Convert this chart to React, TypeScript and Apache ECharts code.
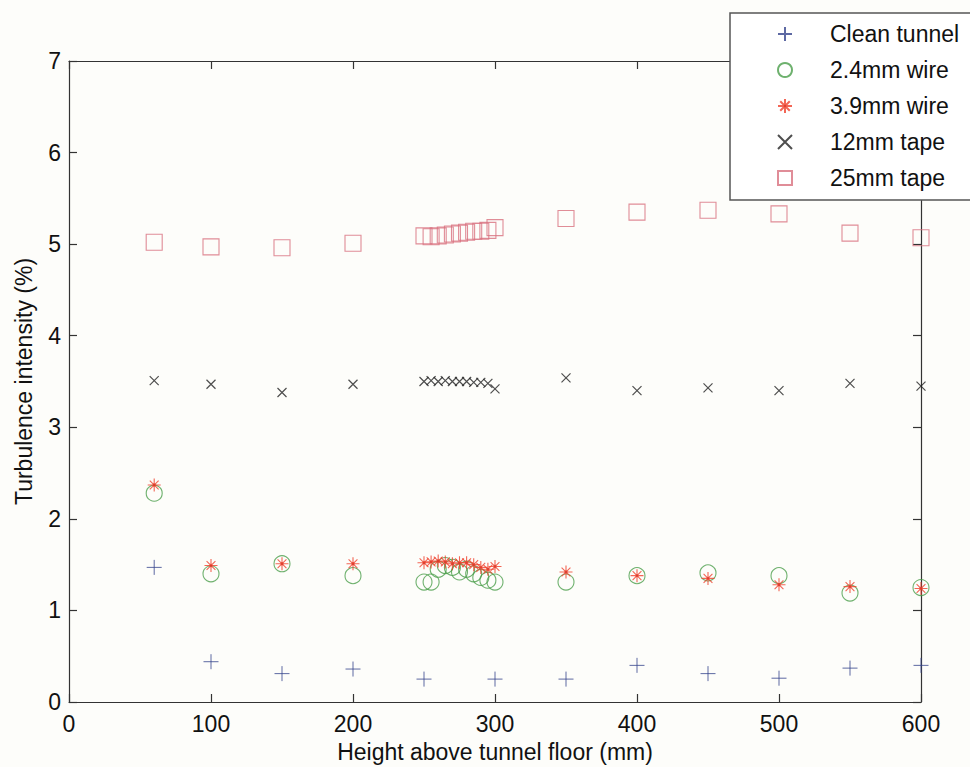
import React, { useEffect, useRef } from "react";
import * as echarts from "echarts";

// Measurement heights (mm above tunnel floor)
const cleanHeights = [60, 100, 150, 200, 250, 300, 350, 400, 450, 500, 550, 600];
const gridHeights = [
  60, 100, 150, 200, 250, 255, 260, 265, 270, 275, 280, 285, 290, 295, 300,
  350, 400, 450, 500, 550, 600,
];

// Turbulence intensity (%) for each configuration
const cleanTunnel = [1.47, 0.44, 0.31, 0.36, 0.25, 0.25, 0.25, 0.40, 0.31, 0.26, 0.37, 0.40];
const wire24 = [
  2.28, 1.40, 1.51, 1.38, 1.31, 1.31, 1.45, 1.49, 1.47, 1.42, 1.45, 1.40, 1.36, 1.33, 1.31,
  1.31, 1.38, 1.41, 1.38, 1.19, 1.25,
];
const wire39 = [
  2.37, 1.49, 1.51, 1.51, 1.52, 1.53, 1.54, 1.53, 1.51, 1.52, 1.52, 1.50, 1.47, 1.45, 1.48,
  1.42, 1.38, 1.35, 1.28, 1.26, 1.24,
];
const tape12 = [
  3.51, 3.47, 3.38, 3.47, 3.50, 3.51, 3.50, 3.51, 3.50, 3.50, 3.50, 3.49, 3.49, 3.48, 3.42,
  3.54, 3.40, 3.43, 3.40, 3.48, 3.45,
];
const tape25 = [
  5.02, 4.97, 4.96, 5.01, 5.09, 5.08, 5.09, 5.10, 5.11, 5.12, 5.13, 5.14, 5.14, 5.15, 5.18,
  5.28, 5.35, 5.37, 5.33, 5.12, 5.07,
];

const seriesNames = ["Clean tunnel", "2.4mm wire", "3.9mm wire", "12mm tape", "25mm tape"];
const xTicks = { min: 0, max: 600, interval: 100 };
const yTicks = { min: 0, max: 7, interval: 1 };

const FONT = "Liberation Sans, Arial, Helvetica, sans-serif";

const PLUS = "path://M0,5L10,5M5,0L5,10";
const CROSS = "path://M0,0L10,10M0,10L10,0";
const STAR =
  "path://M5,0L5,10M0,5L10,5M1.6,1.6L8.4,8.4M1.6,8.4L8.4,1.6M4.1,4.1L5.9,4.1L5.9,5.9L4.1,5.9Z";

function pairs(xs: number[], ys: number[]) {
  return xs.map((x, i) => [x, ys[i]]);
}

function frameAxis(extra: Record<string, unknown>) {
  return {
    type: "value",
    axisLine: { show: true, onZero: false, lineStyle: { color: "#333", width: 1.2 } },
    axisTick: { show: true, inside: true, length: 8, lineStyle: { color: "#333", width: 1.2 } },
    splitLine: { show: false },
    ...extra,
  };
}

export default function App() {
  const ref = useRef<HTMLDivElement>(null);

  useEffect(() => {
    if (!ref.current) return;
    const chart = echarts.init(ref.current, undefined, { renderer: "svg" });

    const label = { fontFamily: FONT, fontSize: 23, color: "#111" };

    chart.setOption({
      animation: false,
      backgroundColor: "#fdfdfa",
      textStyle: { fontFamily: FONT },
      grid: {
        left: 69,
        right: 49,
        top: 61,
        bottom: 65,
        containLabel: false,
        outerBoundsMode: "none",
      },
      legend: {
        orient: "vertical",
        left: 772,
        top: 17,
        itemWidth: 14,
        itemHeight: 14,
        itemGap: 12,
        z: 20,
        data: seriesNames,
        textStyle: {
          fontFamily: FONT,
          fontSize: 23,
          lineHeight: 24,
          color: "#111",
          padding: [0, 0, 0, 33],
        },
      },
      graphic: [
        {
          type: "rect",
          z: 10,
          shape: { x: 730, y: 13, width: 270, height: 187 },
          style: { fill: "#ffffff", stroke: "#555", lineWidth: 1.5 },
        },
      ],
      xAxis: [
        frameAxis({
          position: "bottom",
          ...xTicks,
          name: "Height above tunnel floor (mm)",
          nameLocation: "middle",
          nameGap: 38,
          nameTextStyle: label,
          axisLabel: { ...label, margin: 10 },
        }),
        frameAxis({ position: "top", ...xTicks, axisLabel: { show: false } }),
      ],
      yAxis: [
        frameAxis({
          position: "left",
          ...yTicks,
          name: "Turbulence intensity (%)",
          nameLocation: "middle",
          nameGap: 34,
          nameTextStyle: label,
          axisLabel: { ...label, margin: 8 },
        }),
        frameAxis({ position: "right", ...yTicks, axisLabel: { show: false } }),
      ],
      series: [
        {
          name: seriesNames[0],
          type: "scatter",
          symbol: PLUS,
          symbolSize: 15,
          itemStyle: { color: "rgba(0,0,0,0)", borderColor: "#34448c", borderWidth: 1 },
          data: pairs(cleanHeights, cleanTunnel),
        },
        {
          name: seriesNames[1],
          type: "scatter",
          symbol: "circle",
          symbolSize: 16,
          itemStyle: { color: "rgba(0,0,0,0)", borderColor: "#4a9e4a", borderWidth: 1.1 },
          data: pairs(gridHeights, wire24),
        },
        {
          name: seriesNames[2],
          type: "scatter",
          symbol: STAR,
          symbolSize: 13,
          itemStyle: { color: "#8a1010", borderColor: "#f0402c", borderWidth: 1.1 },
          data: pairs(gridHeights, wire39),
        },
        {
          name: seriesNames[3],
          type: "scatter",
          symbol: CROSS,
          symbolSize: 9,
          itemStyle: { color: "rgba(0,0,0,0)", borderColor: "#222", borderWidth: 1.2 },
          data: pairs(gridHeights, tape12),
        },
        {
          name: seriesNames[4],
          type: "scatter",
          symbol: "rect",
          symbolSize: 16,
          itemStyle: { color: "rgba(0,0,0,0)", borderColor: "#d8707e", borderWidth: 1.1 },
          data: pairs(gridHeights, tape25),
        },
      ],
    });

    return () => chart.dispose();
  }, []);

  return <div ref={ref} style={{ width: 970, height: 767, position: "absolute", left: 0, top: 0 }} />;
}
